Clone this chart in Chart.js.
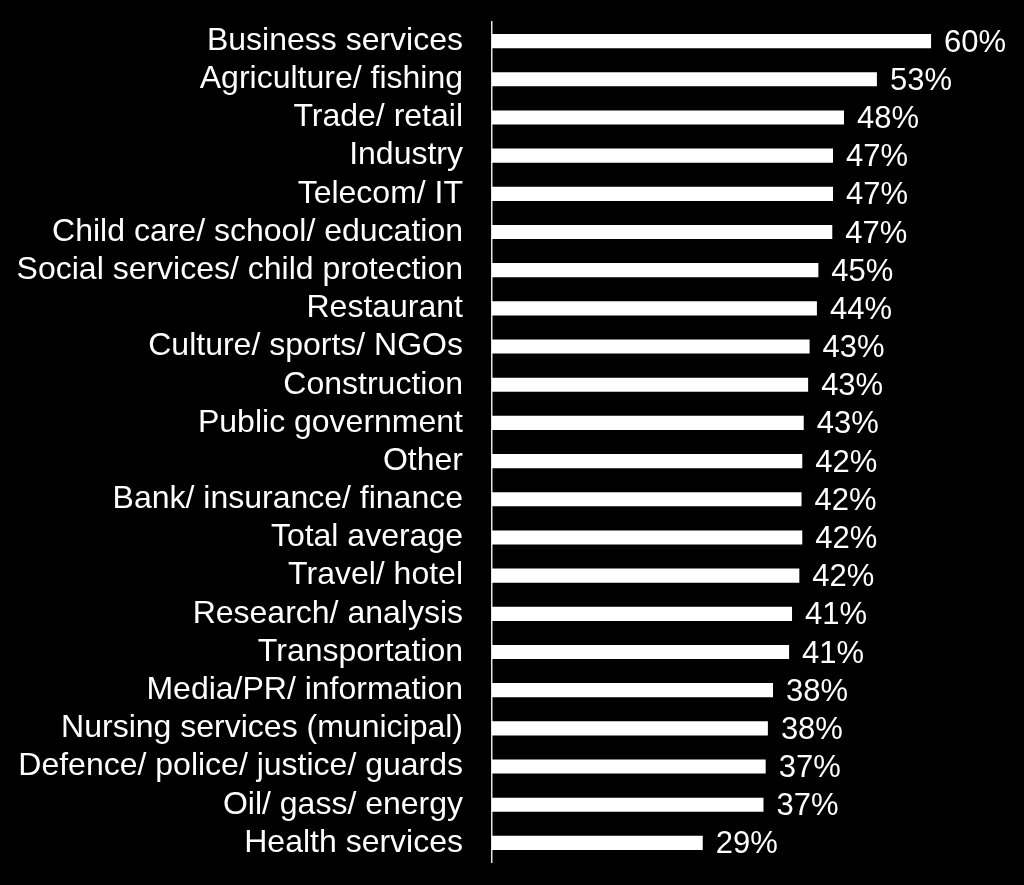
<!DOCTYPE html>
<html>
<head>
<meta charset="utf-8">
<script src="https://cdn.jsdelivr.net/npm/chart.js@4"></script>
<style>
  html, body { margin: 0; padding: 0; background: #000; }
  #wrap { width: 1024px; height: 885px; position: relative; }
</style>
</head>
<body>
<div id="wrap"><canvas id="chart"></canvas></div>
<script>
const categories = [
  'Business services',
  'Agriculture/ fishing',
  'Trade/ retail',
  'Industry',
  'Telecom/ IT',
  'Child care/ school/ education',
  'Social services/ child protection',
  'Restaurant',
  'Culture/ sports/ NGOs',
  'Construction',
  'Public government',
  'Other',
  'Bank/ insurance/ finance',
  'Total average',
  'Travel/ hotel',
  'Research/ analysis',
  'Transportation',
  'Media/PR/ information',
  'Nursing services (municipal)',
  'Defence/ police/ justice/ guards',
  'Oil/ gass/ energy',
  'Health services'
];

// share in percent
const shares = [
  60.0, 52.6, 48.1, 46.6, 46.6, 46.5, 44.6, 44.4, 43.4, 43.2, 42.6,
  42.4, 42.3, 42.4, 42.0, 41.0, 40.6, 38.4, 37.7, 37.4, 37.1, 28.8
];

const FONT = '"Liberation Sans", Arial, sans-serif';

// writes "60%" etc. just right of each bar
const valueLabels = {
  id: 'valueLabels',
  afterDatasetsDraw(chart) {
    const ctx = chart.ctx;
    const meta = chart.getDatasetMeta(0);
    ctx.save();
    ctx.font = '31px ' + FONT;
    ctx.fillStyle = '#fff';
    ctx.textAlign = 'left';
    ctx.textBaseline = 'middle';
    meta.data.forEach((bar, i) => {
      ctx.fillText(Math.round(shares[i]) + '%', bar.x + 13, bar.y + 2);
    });
    ctx.restore();
  }
};

new Chart(document.getElementById('chart'), {
  type: 'bar',
  data: {
    labels: categories,
    datasets: [{
      data: shares,
      backgroundColor: '#fff',
      borderWidth: 0,
      categoryPercentage: 1,
      barPercentage: 0.37
    }]
  },
  options: {
    indexAxis: 'y',
    responsive: true,
    maintainAspectRatio: false,
    animation: false,
    layout: { padding: { top: 22, bottom: 23, left: 0, right: 0 } },
    plugins: {
      legend: { display: false },
      tooltip: { enabled: false }
    },
    scales: {
      x: {
        display: false,
        min: 0,
        max: 72.7
      },
      y: {
        afterFit: scale => {
          scale.width = 492;
          scale.paddingTop = 0;
          scale.paddingBottom = 0;
        },
        grid: { display: false, drawTicks: false },
        border: { display: true, color: '#e6e6e6', width: 1.5 },
        ticks: {
          color: '#fff',
          padding: 29,
          autoSkip: false,
          font: { family: FONT, size: 32 }
        }
      }
    }
  },
  plugins: [valueLabels]
});
</script>
</body>
</html>
